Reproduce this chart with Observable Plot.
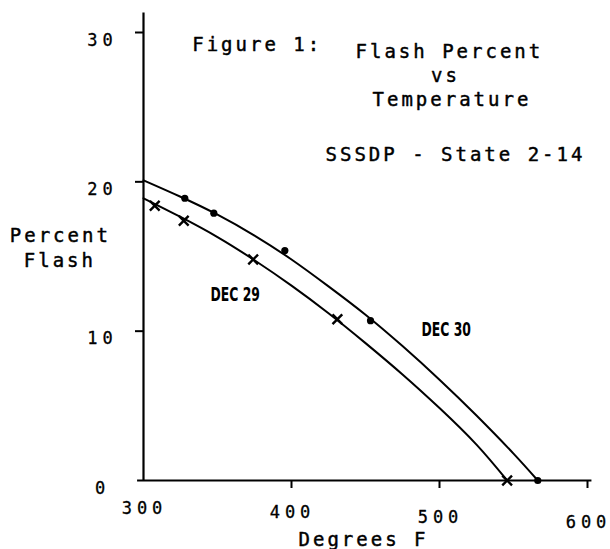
<!DOCTYPE html>
<html><head><meta charset="utf-8">
<script src="https://cdn.jsdelivr.net/npm/d3@7"></script>
<script src="https://cdn.jsdelivr.net/npm/@observablehq/plot@0.6"></script>
<style>
html,body{margin:0;padding:0;background:#fff;}
svg{display:block;}
</style></head><body><div id="chart"></div>
<script>
// Measured points (Dec 30 = dots, Dec 29 = crosses)
const dec30Temp  = [327.9, 347.5, 395.5, 453.4, 566.4];
const dec30Flash = [18.9, 17.9, 15.4, 10.7, 0];
const dec29Temp  = [307.6, 327.2, 374.1, 431.0, 545.7];
const dec29Flash = [18.4, 17.4, 14.8, 10.8, 0];
// Hand-fitted curves as drawn
const dec30CurveTemp  = [300, 325, 350, 375, 400, 425, 450, 475, 500, 525, 550, 566.4];
const dec30CurveFlash = [20.1, 19.0, 17.8, 16.4, 14.8, 13.0, 11.1, 9.0, 6.75, 4.35, 1.8, 0];
const dec29CurveTemp  = [300, 325, 350, 375, 400, 425, 450, 475, 500, 525, 545.7];
const dec29CurveFlash = [18.9, 17.65, 16.3, 14.75, 13.05, 11.2, 9.2, 7.1, 4.85, 2.4, 0];
// Axes
const xTickValues = [300, 400, 500, 600];
const yTickValues = [0, 10, 20, 30];
const xDomain = [300, 600];
const yDomain = [0, 30];
const yAxisTop = 31.3;
const xAxisExtent = [296, 603];
// Texts
const titleLine1a = "Figure 1:";
const titleLine1b = "Flash Percent";
const titleLine2 = "vs";
const titleLine3 = "Temperature";
const titleLine4 = "SSSDP - State 2-14";
const yLabelLines = ["Percent", "Flash"];
const xLabel = "Degrees F";
const seriesNames = ["DEC 29", "DEC 30"];

const mono = "DejaVu Sans Mono, monospace";
const txt = (s, anchor, dx, dy, extra = {}) => Plot.text([s], {
  text: d => d, frameAnchor: anchor, dx, dy, textAnchor: "start", lineAnchor: "bottom",
  fontFamily: mono, fontSize: 19, fill: "black", stroke: "black", strokeWidth: 0.45, ...extra
});
const seriesFont = "DejaVu Sans, sans-serif";

const marks = [
  Plot.ruleX([300], {y1: 0, y2: yAxisTop, stroke: "black", strokeWidth: 2.2}),
  Plot.ruleY([0], {x1: xAxisExtent[0], x2: xAxisExtent[1], stroke: "black", strokeWidth: 2.2}),
  Plot.axisX(xTickValues.slice(1), {tickSize: 8, tickFormat: () => "", label: null, strokeWidth: 2}),
  Plot.axisY(yTickValues.slice(1), {tickSize: 8, tickFormat: () => "", label: null, strokeWidth: 2}),
  // curves
  Plot.line(dec30CurveTemp, {x: d => d, y: (d, i) => dec30CurveFlash[i], curve: "natural", stroke: "black", strokeWidth: 2}),
  Plot.line(dec29CurveTemp, {x: d => d, y: (d, i) => dec29CurveFlash[i], curve: "natural", stroke: "black", strokeWidth: 2}),
  // points
  Plot.dot(dec30Temp, {x: d => d, y: (d, i) => dec30Flash[i], r: 3.6, fill: "black", stroke: "none"}),
  Plot.dot(dec29Temp, {x: d => d, y: (d, i) => dec29Flash[i], symbol: "times", r: 4.5, stroke: "black", strokeWidth: 2.4}),
  // tick labels
  ...xTickValues.map((t, i) => Plot.text([t], {x: d => d, text: d => String(d), frameAnchor: "bottom",
      dx: 1, dy: 33.3 + 4.65 * i, textAnchor: "middle", lineAnchor: "bottom",
      fontFamily: mono, fontSize: 17, fill: "black", stroke: "black", strokeWidth: 0.3})),
  Plot.text(yTickValues, {y: d => d, text: d => String(d), frameAnchor: "left", dx: -41, dy: 13,
      textAnchor: "middle", lineAnchor: "bottom", fontFamily: mono, fontSize: 17, fill: "black", stroke: "black", strokeWidth: 0.3}),
  // title block
  txt(titleLine1a, "top-left", 48.7, 18.7),
  txt(titleLine1b, "top-left", 212, 25.3),
  txt(titleLine2, "top-left", 302, 49.7, {textAnchor: "middle"}),
  txt(titleLine3, "top-left", 229, 73),
  txt(titleLine4, "top-left", 182, 128),
  // axis labels
  txt(yLabelLines[0], "top-left", -133.7, 209.7),
  txt(yLabelLines[1], "top-left", -119.7, 234),
  txt(xLabel, "bottom-left", 155, 65),
  // series labels
  Plot.text([seriesNames[0]], {text: d => d, frameAnchor: "top-left", dx: 67, dy: 268, textAnchor: "start", lineAnchor: "bottom",
      fontFamily: seriesFont, fontWeight: "bold", fontSize: 20, fill: "black"}),
  Plot.text([seriesNames[1]], {text: d => d, frameAnchor: "top-left", dx: 278, dy: 303, textAnchor: "start", lineAnchor: "bottom",
      fontFamily: seriesFont, fontWeight: "bold", fontSize: 20, fill: "black"})
];

const chart = Plot.plot({
  width: 610, height: 549,
  marginLeft: 143, marginRight: 23, marginTop: 32, marginBottom: 69,
  x: {domain: xDomain, axis: null},
  y: {domain: yDomain, axis: null},
  style: {background: "white", color: "black", overflow: "visible"},
  marks
});
document.getElementById("chart").appendChild(chart);
const svg = d3.select(chart);
svg.selectAll('g[font-size="19"] text').style("letter-spacing", "3px");
svg.selectAll('g[font-size="17"] text').style("letter-spacing", "5px");
svg.selectAll('g[font-weight="bold"] text').each(function () {
  const bb = this.getBBox();
  const x0 = bb.x;
  const t = this.getAttribute("transform") || "";
  this.setAttribute("transform", `${t} translate(${x0},0) scale(0.62,1) translate(${-x0},0)`);
});
</script>
</body></html>
